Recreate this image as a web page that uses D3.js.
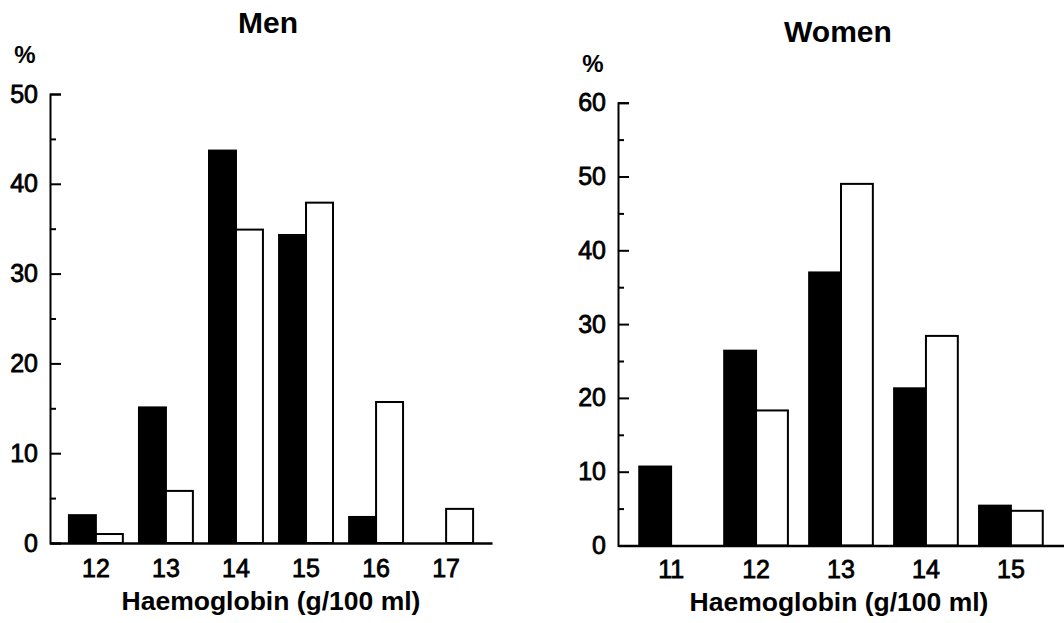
<!DOCTYPE html>
<html>
<head>
<meta charset="utf-8">
<script src="https://cdn.jsdelivr.net/npm/d3@7"></script>
<style>
  body { margin: 0; background: #fff; }
  svg { display: block; font-family: "Liberation Sans", Arial, Helvetica, sans-serif; }
</style>
</head>
<body>
<svg width="1064" height="623"></svg>
<script>
// values (% of subjects per haemoglobin class)
var menCategories = ["12", "13", "14", "15", "16", "17"];
var menBlack = [3.1, 15.1, 43.7, 34.3, 2.9, 0];
var menWhite = [1.0, 5.8, 34.9, 37.9, 15.7, 3.8];
var menYTicks = [0, 10, 20, 30, 40, 50];

var womenCategories = ["11", "12", "13", "14", "15"];
var womenBlack = [10.7, 26.4, 37.0, 21.3, 5.4];
var womenWhite = [0, 18.3, 49.0, 28.4, 4.7];
var womenYTicks = [0, 10, 20, 30, 40, 50, 60];

var svg = d3.select("svg");

function drawPanel(p) {
  var g = svg.append("g");

  var x = d3.scaleBand()
      .domain(p.categories)
      .range([p.left, p.right])
      .paddingInner(p.padInner)
      .paddingOuter(p.padOuter);

  var x1 = d3.scaleBand()
      .domain(["black", "white"])
      .range([0, x.bandwidth()]);

  var y = d3.scaleLinear()
      .domain([0, p.yMax])
      .range([p.bottom, p.top]);

  var rows = p.categories.map(function(c, i) {
    return {cat: c, black: p.black[i], white: p.white[i]};
  });

  // bars
  var groups = g.selectAll(".grp")
    .data(rows)
    .enter().append("g")
      .attr("class", "grp")
      .attr("transform", function(d) { return "translate(" + x(d.cat) + ",0)"; });

  groups.selectAll("rect")
    .data(function(d) {
      return ["black", "white"].map(function(k) { return {key: k, value: d[k]}; })
        .filter(function(e) { return e.value > 0; });
    })
    .enter().append("rect")
      .attr("x", function(d) { return x1(d.key); })
      .attr("y", function(d) { return y(d.value); })
      .attr("width", x1.bandwidth())
      .attr("height", function(d) { return y(0) - y(d.value); })
      .style("fill", function(d) { return d.key == "black" ? "#000" : "#fff"; })
      .style("stroke", "#000")
      .style("stroke-width", 2);

  // minor ticks at the fives
  var minor = d3.range(5, p.yMax, 10);
  g.append("g")
      .attr("transform", "translate(" + p.left + ",0)")
      .call(d3.axisLeft(y).tickValues(minor).tickSize(-6).tickFormat(""))
      .call(function(a) { a.select(".domain").remove(); })
      .selectAll("line").style("stroke-width", 2);

  // y axis, ticks pointing inward
  var yAxis = g.append("g")
      .attr("transform", "translate(" + p.left + ",0)")
      .call(d3.axisLeft(y).tickValues(p.yTicks).tickSizeInner(-11).tickSizeOuter(-11).tickPadding(12));
  yAxis.selectAll("line, .domain").style("stroke", "#000").style("stroke-width", 2);
  yAxis.selectAll("text")
      .style("font-size", "25px").style("fill", "#000")
      .style("stroke", "#000").style("stroke-width", 0.8);

  // x axis, no ticks
  var xAxis = g.append("g")
      .attr("transform", "translate(0," + p.bottom + ")")
      .call(d3.axisBottom(x).tickSize(0).tickPadding(p.xPad));
  xAxis.select(".domain").style("stroke", "#000").style("stroke-width", 2.5);
  xAxis.selectAll("text")
      .style("font-size", "25px").style("fill", "#000")
      .style("stroke", "#000").style("stroke-width", 0.8);

  // titles
  g.append("text")
      .attr("x", p.titleX).attr("y", p.titleY)
      .attr("text-anchor", "middle")
      .style("font-size", "30px").style("font-weight", "bold")
      .text(p.title);

  g.append("text")
      .attr("x", p.pctX).attr("y", p.pctY)
      .attr("text-anchor", "middle")
      .style("font-size", "24px").style("font-weight", "bold")
      .text("%");

  g.append("text")
      .attr("x", p.xTitleX).attr("y", p.xTitleY)
      .attr("text-anchor", "middle")
      .style("font-size", "26.5px").style("font-weight", "bold")
      .text("Haemoglobin (g/100 ml)");
}

drawPanel({
  categories: menCategories, black: menBlack, white: menWhite,
  yTicks: menYTicks, yMax: 50,
  left: 50, right: 492, top: 94, bottom: 543,
  padInner: 0.23, padOuter: 0.27, xPad: 16,
  title: "Men", titleX: 268, titleY: 33,
  pctX: 25, pctY: 63,
  xTitleX: 271, xTitleY: 610
});

drawPanel({
  categories: womenCategories, black: womenBlack, white: womenWhite,
  yTicks: womenYTicks, yMax: 60,
  left: 618, right: 1064, top: 102.7, bottom: 545.5,
  padInner: 0.25, padOuter: 0.25, xPad: 15,
  title: "Women", titleX: 838, titleY: 42,
  pctX: 593, pctY: 72,
  xTitleX: 839, xTitleY: 611
});
</script>
</body>
</html>
